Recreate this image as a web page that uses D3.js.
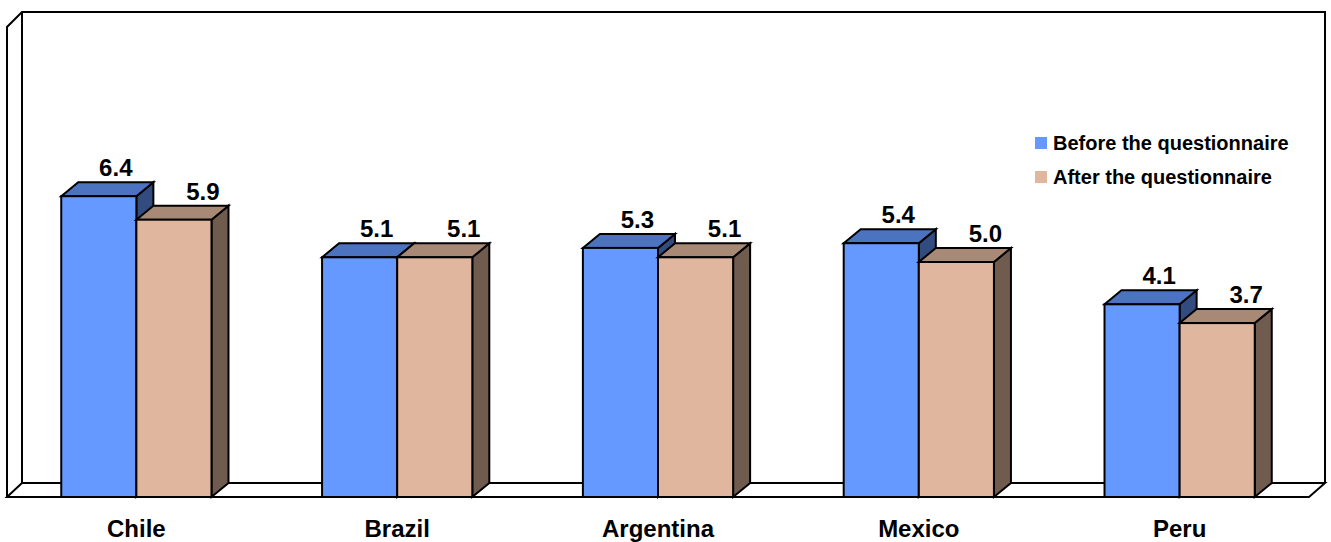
<!DOCTYPE html>
<html>
<head>
<meta charset="utf-8">
<script src="https://cdn.jsdelivr.net/npm/d3@7"></script>
<style>
  html, body { margin: 0; padding: 0; background: #fff; }
  svg { display: block; }
  text { font-family: "Liberation Sans", Arial, sans-serif; font-weight: bold; fill: #000; }
</style>
</head>
<body>
<svg id="chart" width="1331" height="542"></svg>
<script>
// Average rating per country, before and after answering the questionnaire
const countries = ["Chile", "Brazil", "Argentina", "Mexico", "Peru"];
const seriesNames = ["Before the questionnaire", "After the questionnaire"];
const beforeValues = [6.4, 5.1, 5.3, 5.4, 4.1];
const afterValues = [5.9, 5.1, 5.1, 5.0, 3.7];
const valueLabels = [
  ["6.4", "5.1", "5.3", "5.4", "4.1"],
  ["5.9", "5.1", "5.1", "5.0", "3.7"]
];

// face colours: front, top, side
const palette = [
  { front: "#6699FF", top: "#4C73C0", side: "#334C80" },
  { front: "#E0B69E", top: "#A88976", side: "#705B4F" }
];

const svg = d3.select("#chart");

// 3D frame geometry
const floorY = 497, backFloorY = 483;
const frameLeft = 7, frameRight = 1309;
const wallDx = 15, wallDy = 15;
const barDx = 17, barDy = 14;

const x = d3.scaleBand()
  .domain(countries)
  .range([frameLeft, frameRight])
  .paddingInner(0.424)
  .paddingOuter(0.208);

const x1 = d3.scaleBand()
  .domain(seriesNames)
  .range([0, x.bandwidth()]);

const y = d3.scaleLinear().domain([0, 10]).range([floorY, 27]);

// walls and floor
const frame = svg.append("g")
  .attr("fill", "none")
  .attr("stroke", "#000")
  .attr("stroke-width", 2)
  .attr("stroke-linejoin", "miter");

const backTop = y(10) - wallDy;
const backL = frameLeft + wallDx, backR = frameRight + 16;

frame.append("path").attr("d",
  `M${frameLeft},${floorY} L${frameLeft},${y(10)} L${backL},${backTop} L${backR},${backTop} L${backR},${backFloorY}`);
frame.append("path").attr("d",
  `M${backL},${backTop} L${backL},${backFloorY} L${backR},${backFloorY} L${frameRight},${floorY} L${frameLeft},${floorY} L${backL},${backFloorY}`);

// bars
const data = countries.map((c, i) => ({
  country: c,
  values: [beforeValues[i], afterValues[i]],
  labels: [valueLabels[0][i], valueLabels[1][i]]
}));

const bars = svg.append("g")
  .attr("stroke", "#000")
  .attr("stroke-width", 2)
  .attr("stroke-linejoin", "miter");

data.forEach(d => {
  seriesNames.forEach((s, k) => {
    const x0 = x(d.country) + x1(s);
    const w = x1.bandwidth();
    const yt = y(d.values[k]);
    const yb = y(0);
    const g = bars.append("g");
    // side face
    g.append("path")
      .attr("fill", palette[k].side)
      .attr("d", `M${x0 + w},${yt} L${x0 + w + barDx},${yt - barDy} L${x0 + w + barDx},${yb - barDy} L${x0 + w},${yb} Z`);
    // top face
    g.append("path")
      .attr("fill", palette[k].top)
      .attr("d", `M${x0},${yt} L${x0 + barDx},${yt - barDy} L${x0 + w + barDx},${yt - barDy} L${x0 + w},${yt} Z`);
    // front face
    g.append("rect")
      .attr("x", x0).attr("y", yt)
      .attr("width", w).attr("height", yb - yt)
      .attr("fill", palette[k].front);
  });
});

// value labels above each bar
const labelShift = [17, 29];
const labels = svg.append("g").attr("font-size", 24).attr("text-anchor", "middle");
data.forEach(d => {
  seriesNames.forEach((s, k) => {
    labels.append("text")
      .attr("x", x(d.country) + x1(s) + x1.bandwidth() / 2 + labelShift[k])
      .attr("y", y(d.values[k]) - barDy - 6)
      .text(d.labels[k]);
  });
});

// category axis labels
svg.append("g").attr("font-size", 24).attr("text-anchor", "middle")
  .selectAll("text")
  .data(countries)
  .join("text")
  .attr("x", c => x(c) + x.bandwidth() / 2)
  .attr("y", 537)
  .text(c => c);

// legend
const legend = svg.append("g").attr("transform", "translate(1035,137)");
seriesNames.forEach((s, k) => {
  const row = legend.append("g").attr("transform", `translate(0,${k * 34})`);
  row.append("rect").attr("width", 12).attr("height", 12).attr("fill", palette[k].front);
  row.append("text").attr("x", 18).attr("y", 12.5).attr("font-size", 20).text(s);
});
</script>
</body>
</html>
